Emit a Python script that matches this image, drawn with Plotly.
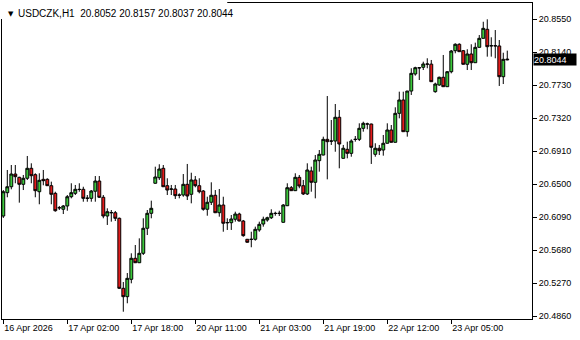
import plotly.graph_objects as go

symbol = "USDCZK,H1"
header_values = ["20.8052", "20.8157", "20.8037", "20.8044"]
last_price = 20.8044

opens = [20.6102, 20.6392, 20.6466, 20.6624, 20.6583, 20.6496, 20.6571, 20.6695, 20.6616, 20.6404,
         20.6558, 20.6558, 20.6479, 20.6384, 20.6206, 20.6186, 20.6227, 20.6342, 20.6384, 20.6434,
         20.6434, 20.6322, 20.6322, 20.6410, 20.6537, 20.6335, 20.6102, 20.6146, 20.6143, 20.6074,
         20.5204, 20.5100, 20.5316, 20.5577, 20.5522, 20.5639, 20.5950, 20.6136, 20.6509, 20.6578,
         20.6695, 20.6479, 20.6438, 20.6438, 20.6363, 20.6363, 20.6496, 20.6372, 20.6550, 20.6479,
         20.6413, 20.6186, 20.6273, 20.6360, 20.6143, 20.6239, 20.6021, 20.6019, 20.6062, 20.6127,
         20.6040, 20.5813, 20.5811, 20.5813, 20.5929, 20.6003, 20.6053, 20.6081, 20.6136, 20.6134,
         20.6024, 20.6230, 20.6454, 20.6417, 20.6583, 20.6479, 20.6376, 20.6662, 20.6521, 20.6790,
         20.6860, 20.7055, 20.7032, 20.7034, 20.7329, 20.6819, 20.6931, 20.6881, 20.7053, 20.7055,
         20.7192, 20.7247, 20.7245, 20.6869, 20.6944, 20.6922, 20.7006, 20.7171, 20.7018, 20.7378,
         20.7544, 20.7150, 20.7655, 20.7867, 20.7945, 20.7950, 20.7991, 20.7989, 20.7647, 20.7730,
         20.7826, 20.7709, 20.7895, 20.8156, 20.8236, 20.8156, 20.7987, 20.8115, 20.8007, 20.8198,
         20.8310, 20.8422, 20.8216, 20.8218, 20.8215, 20.7833, 20.8052]
highs = [20.6425, 20.6674, 20.6736, 20.6736, 20.6590, 20.6612, 20.6848, 20.6757, 20.6633, 20.6633,
         20.6674, 20.6571, 20.6529, 20.6404, 20.6227, 20.6239, 20.6363, 20.6509, 20.6488, 20.6509,
         20.6466, 20.6363, 20.6425, 20.6599, 20.6599, 20.6363, 20.6198, 20.6177, 20.6165, 20.6083,
         20.5282, 20.5394, 20.5639, 20.5742, 20.5825, 20.6074, 20.6177, 20.6293, 20.6715, 20.6745,
         20.6736, 20.6571, 20.6488, 20.6488, 20.6384, 20.6624, 20.6749, 20.6640, 20.6599, 20.6571,
         20.6425, 20.6342, 20.6521, 20.6425, 20.6438, 20.6342, 20.6074, 20.6115, 20.6156, 20.6143,
         20.6053, 20.5817, 20.5907, 20.5970, 20.6032, 20.6094, 20.6094, 20.6186, 20.6156, 20.6168,
         20.6250, 20.6509, 20.6475, 20.6633, 20.6612, 20.6550, 20.6757, 20.6715, 20.6860, 20.6922,
         20.7088, 20.7593, 20.7295, 20.7494, 20.7419, 20.6985, 20.7026, 20.7055, 20.7096, 20.7254,
         20.7274, 20.7262, 20.7250, 20.7006, 20.6985, 20.7109, 20.7254, 20.7233, 20.7453, 20.7647,
         20.7647, 20.7657, 20.7938, 20.7957, 20.7950, 20.8020, 20.8062, 20.8041, 20.7759, 20.7834,
         20.8103, 20.7904, 20.8165, 20.8248, 20.8248, 20.8165, 20.8174, 20.8236, 20.8256, 20.8351,
         20.8516, 20.8546, 20.8323, 20.8413, 20.8289, 20.8131, 20.8157]
lows = [20.6078, 20.6335, 20.6434, 20.6509, 20.6268, 20.6425, 20.6550, 20.6509, 20.6335, 20.6248,
        20.6484, 20.6475, 20.6248, 20.6156, 20.6177, 20.6127, 20.6168, 20.6322, 20.6363, 20.6404,
        20.6280, 20.6280, 20.6280, 20.6280, 20.6326, 20.6074, 20.5991, 20.6032, 20.6040, 20.5196,
        20.4913, 20.5018, 20.5266, 20.5518, 20.5518, 20.5618, 20.5866, 20.6074, 20.6505, 20.6550,
        20.6463, 20.6363, 20.6363, 20.6314, 20.6322, 20.6342, 20.6301, 20.6260, 20.6459, 20.6384,
        20.6168, 20.6106, 20.6239, 20.6139, 20.6094, 20.5907, 20.5929, 20.5929, 20.6032, 20.6036,
        20.5845, 20.5772, 20.5714, 20.5796, 20.5907, 20.5970, 20.6032, 20.6065, 20.6106, 20.6102,
        20.6020, 20.6226, 20.6413, 20.6413, 20.6447, 20.6363, 20.6363, 20.6404, 20.6322, 20.6653,
        20.6856, 20.6558, 20.6985, 20.6901, 20.6695, 20.6815, 20.6819, 20.6839, 20.7026, 20.7034,
        20.7150, 20.7180, 20.6749, 20.6839, 20.6860, 20.6852, 20.7004, 20.7016, 20.7016, 20.7316,
        20.7148, 20.7088, 20.7606, 20.7846, 20.7792, 20.7916, 20.7938, 20.7769, 20.7634, 20.7721,
        20.7707, 20.7707, 20.7875, 20.8124, 20.8142, 20.7985, 20.7916, 20.7916, 20.8005, 20.8196,
        20.8308, 20.8082, 20.8082, 20.8062, 20.7718, 20.7742, 20.8037]
closes = [20.6404, 20.6466, 20.6624, 20.6591, 20.6496, 20.6571, 20.6695, 20.6603, 20.6417, 20.6546,
          20.6541, 20.6479, 20.6372, 20.6168, 20.6204, 20.6227, 20.6342, 20.6392, 20.6434, 20.6432,
          20.6322, 20.6324, 20.6413, 20.6537, 20.6335, 20.6102, 20.6156, 20.6143, 20.6074, 20.5204,
          20.5100, 20.5328, 20.5577, 20.5522, 20.5639, 20.5950, 20.6136, 20.6198, 20.6587, 20.6686,
          20.6466, 20.6425, 20.6436, 20.6355, 20.6361, 20.6496, 20.6351, 20.6550, 20.6479, 20.6404,
          20.6186, 20.6273, 20.6360, 20.6143, 20.6239, 20.6012, 20.6019, 20.6065, 20.6127, 20.6040,
          20.5858, 20.5776, 20.5813, 20.5937, 20.5999, 20.6062, 20.6081, 20.6136, 20.6134, 20.6136,
          20.6239, 20.6454, 20.6417, 20.6583, 20.6475, 20.6376, 20.6674, 20.6521, 20.6798, 20.6869,
          20.7055, 20.7026, 20.7034, 20.7329, 20.6997, 20.6944, 20.6881, 20.7034, 20.7055, 20.7192,
          20.7254, 20.7245, 20.6956, 20.6944, 20.6914, 20.7006, 20.7171, 20.7018, 20.7378, 20.7544,
          20.7150, 20.7655, 20.7875, 20.7945, 20.7943, 20.7991, 20.7989, 20.7771, 20.7742, 20.7826,
          20.7709, 20.7895, 20.8152, 20.8236, 20.8144, 20.7987, 20.8115, 20.8007, 20.8198, 20.8310,
          20.8434, 20.8206, 20.8218, 20.8216, 20.7833, 20.8049, 20.8044]

x_tick_index = [0, 16, 32, 48, 64, 80, 96, 112]
x_tick_labels = ["16 Apr 2026", "17 Apr 02:00", "17 Apr 18:00", "20 Apr 11:00",
                 "21 Apr 03:00", "21 Apr 19:00", "22 Apr 12:00", "23 Apr 05:00"]
y_tick_values = [20.4860, 20.5270, 20.5680, 20.6090, 20.6500, 20.6910,
                 20.7320, 20.7730, 20.8140, 20.8550]

bars = list(range(len(opens)))

fig = go.Figure()
fig.add_trace(go.Candlestick(
    x=bars, open=opens, high=highs, low=lows, close=closes,
    increasing=dict(line=dict(color="black", width=1), fillcolor="#3cc83c"),
    decreasing=dict(line=dict(color="black", width=1), fillcolor="#e41c1c"),
    whiskerwidth=0, hoverinfo="skip", showlegend=False,
))

font_axis = dict(family="Liberation Sans, Arial, sans-serif", size=9, color="black")

fig.update_layout(
    width=580, height=340,
    margin=dict(l=2, r=48, t=3, b=21),
    paper_bgcolor="white", plot_bgcolor="white",
    boxgap=0.2, boxgroupgap=0.1,
    showlegend=False,
    xaxis=dict(
        range=[-0.325, 132.18], rangeslider=dict(visible=False),
        showgrid=False, zeroline=False,
        showline=True, linecolor="black", linewidth=1, mirror=True,
        tickmode="array", tickvals=x_tick_index, ticktext=x_tick_labels,
        ticks="outside", ticklen=4, tickcolor="black", tickwidth=1,
        ticklabelposition="outside right",
        tickfont=font_axis,
    ),
    yaxis=dict(
        range=[20.48227, 20.87488], side="right",
        showgrid=False, zeroline=False,
        showline=True, linecolor="black", linewidth=1, mirror=True,
        tickmode="array", tickvals=y_tick_values,
        ticktext=[f"{v:.4f}" for v in y_tick_values],
        ticks="outside", ticklen=4, tickcolor="black", tickwidth=1,
        tickfont=font_axis,
    ),
)

# white backdrop behind the header label (hides the frame there, as in the terminal)
fig.add_shape(
    type="rect", xref="paper", yref="paper", layer="above",
    x0=-0.01, x1=0.425, y0=1 - 16 / 316, y1=1 + 4 / 316,
    line=dict(width=0), fillcolor="white",
)
fig.add_annotation(
    xref="paper", yref="y", x=1, y=last_price, xanchor="left", yanchor="middle",
    xshift=1, text=f"{last_price:.4f}", showarrow=False,
    bgcolor="black", font=dict(family="Liberation Sans, Arial, sans-serif", size=9, color="white"),
    width=42, height=11, align="left", borderpad=0,
)
fig.add_annotation(
    xref="paper", yref="paper", x=0, y=1, xanchor="left", yanchor="top",
    xshift=4, yshift=-5, text="▼", showarrow=False,
    font=dict(family="DejaVu Sans", size=7, color="black"),
)
fig.add_annotation(
    xref="paper", yref="paper", x=0, y=1, xanchor="left", yanchor="top",
    xshift=14, yshift=-3, text=symbol + "  " + " ".join(header_values), showarrow=False,
    font=dict(family="Liberation Sans, Arial, sans-serif", size=10, color="black"),
)

fig.write_html("out.html")
